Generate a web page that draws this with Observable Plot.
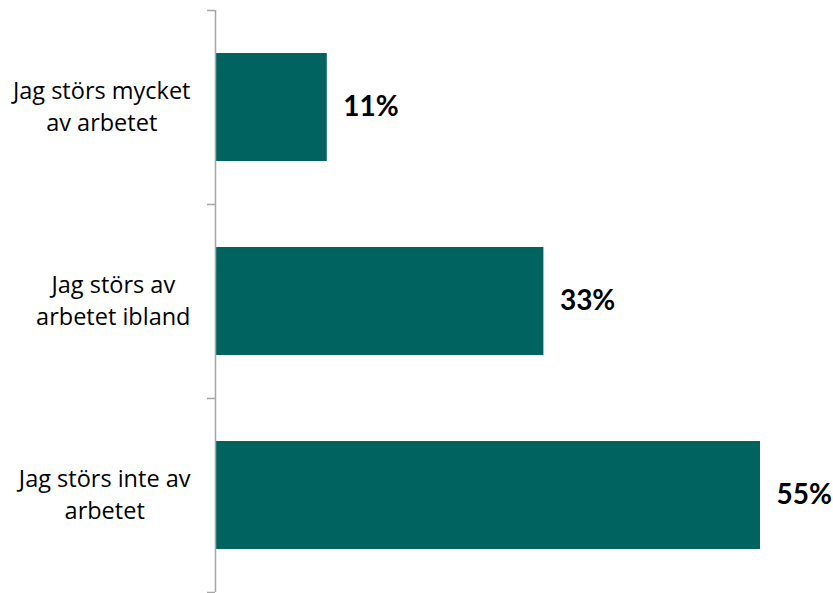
<!DOCTYPE html>
<html>
<head>
<meta charset="utf-8">
<script src="https://cdn.jsdelivr.net/npm/d3@7"></script>
<script src="https://cdn.jsdelivr.net/npm/@observablehq/plot@0.6"></script>
<style>
  html, body { margin: 0; padding: 0; background: #fff; }
  #chart { width: 833px; height: 593px; }
</style>
</head>
<body>
<div id="chart"></div>
<script>
// Data
const categories = [
  "Jag störs mycket\nav arbetet",
  "Jag störs av\narbetet ibland",
  "Jag störs inte av\narbetet"
];
const values = [11.2, 33.1, 55.0];
const valueLabels = ["11%", "33%", "55%"];

const data = categories.map((c, i) => ({cat: c, value: values[i], label: valueLabels[i]}));

// Layout
const W = 833, H = 593;
const mL = 216, mR = 73, mT = 10, mB = 1;
const xMax = 55;
const barColor = "#00635f";
const axisColor = "#a6a6a6";
const labelFont = "Open Sans";
const labelSize = 23.5;
const labelGap = 26;

const step = (H - mT - mB) / categories.length;
const pxPerUnit = (W - mL - mR) / xMax;
const tickLen = 8 / pxPerUnit;

// measure label block widths
const ctx = document.createElement("canvas").getContext("2d");
ctx.font = `${labelSize}px "${labelFont}"`;
const blockWidth = c => Math.max(...c.split("\n").map(l => ctx.measureText(l).width));

const labelMarks = categories.map(c =>
  Plot.text([c], {
    x: () => 0,
    y: d => d,
    text: d => d,
    textAnchor: "middle",
    lineAnchor: "middle",
    lineHeight: 1.4,
    dx: -(labelGap + blockWidth(c) / 2),
    dy: -3,
    fontSize: labelSize,
    fontFamily: labelFont,
    fill: "#000"
  })
);

const chart = Plot.plot({
  width: W,
  height: H,
  marginLeft: mL,
  marginRight: mR,
  marginTop: mT,
  marginBottom: mB,
  style: {fontFamily: "Lato", background: "#fff"},
  x: {domain: [0, xMax], axis: null},
  y: {domain: categories, paddingInner: 0.445, paddingOuter: 0.22, axis: null},
  marks: [
    Plot.barX(data, {x: "value", y: "cat", fill: barColor}),
    Plot.ruleX([0], {stroke: axisColor, strokeWidth: 1.5, dx: -1}),
    Plot.ruleY(categories, {y: d => d, x1: -tickLen, x2: 0, dx: -1, dy: -step / 2, stroke: axisColor, strokeWidth: 1.5}),
    Plot.ruleY(categories.slice(-1), {y: d => d, x1: -tickLen, x2: 0, dx: -1, dy: step / 2, stroke: axisColor, strokeWidth: 1.5}),
    Plot.text(data, {
      x: "value", y: "cat", text: "label",
      textAnchor: "start", dx: 16,
      fontSize: 28, fontWeight: "bold", fontFamily: "Lato", fill: "#000"
    }),
    ...labelMarks
  ]
});
document.getElementById("chart").appendChild(chart);
</script>
</body>
</html>
